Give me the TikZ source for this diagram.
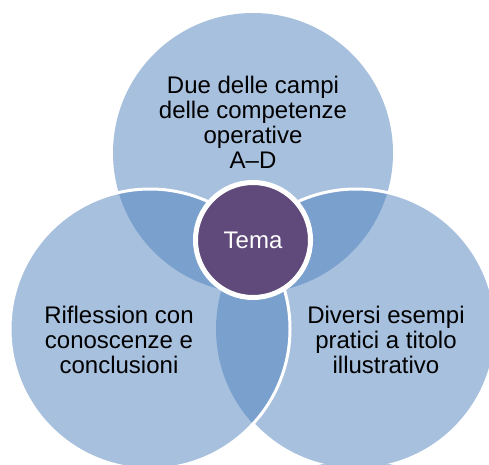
\documentclass[tikz,border=0pt]{standalone}
\usepackage{fontspec}
\setmainfont{Liberation Sans}
\definecolor{vennblue}{HTML}{4F81BD}
\definecolor{vennpurple}{HTML}{604A7B}

\begin{document}
\begin{tikzpicture}[x=1pt,y=1pt,
	venn/.style={fill=vennblue, fill opacity=0.5},
	rim/.style={draw=white, line width=3pt},
	venntext/.style={align=center, font=\fontsize{24}{25}\selectfont}]
\useasboundingbox (0,0) rectangle (489,-464);
\coordinate (ctop) at (253,-153);
\coordinate (cleft) at (150,-329);
\coordinate (cright) at (356,-329);
\def\rad{140}
\foreach \c in {ctop,cright,cleft}
	\fill[venn] (\c) circle (\rad);
% rims
\begin{scope}[even odd rule]
\clip (0,0) rectangle (489,-464) (cleft) circle (\rad);
\draw[rim] (cright) circle (\rad);
\end{scope}
\draw[rim] (cleft) circle (\rad);
\node[circle, fill=vennpurple, draw=white, line width=5pt, minimum size=115pt,
	text=white, venntext] (tema) at (253,-240) {Tema};
\node[venntext] (campi) at (253,-122) {Due delle campi\\delle competenze\\operative\\A–D};
\node[venntext] (riflession) at (119,-340) {Riflession con\\conoscenze e\\conclusioni};
\node[venntext] (esempi) at (386,-340) {Diversi esempi\\pratici a titolo\\illustrativo};
\end{tikzpicture}
\end{document}
